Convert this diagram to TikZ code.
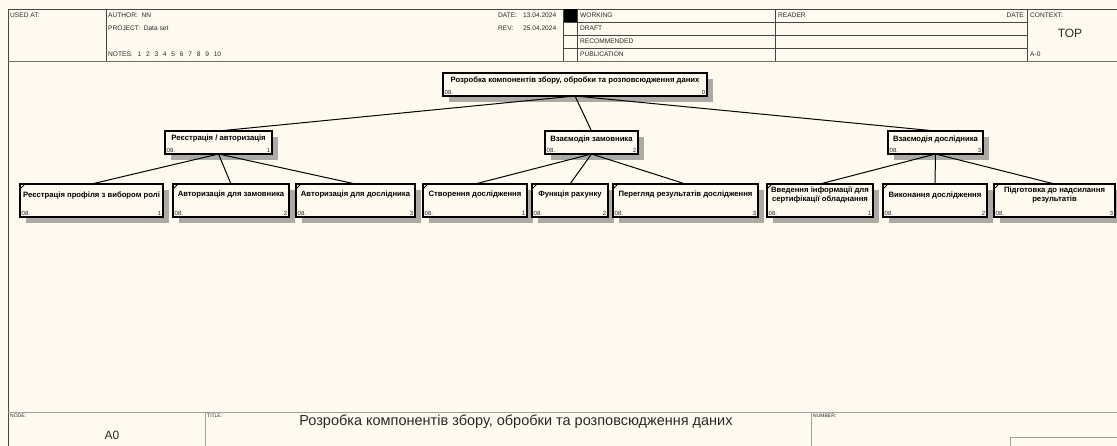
\documentclass[tikz,border=0pt]{standalone}
\usepackage{fontspec}
\setmainfont{Liberation Sans}
\usetikzlibrary{shadows}

\definecolor{paper}{RGB}{255,250,240}
\definecolor{frameline}{RGB}{70,70,70}
\definecolor{footline}{RGB}{160,160,160}
\definecolor{shade}{RGB}{172,170,164}
\definecolor{ink}{RGB}{40,40,40}

\tikzset{
  act/.style={draw=black, line width=1.1pt, fill=paper, anchor=north west,
    inner sep=0pt, outer sep=0pt,
    drop shadow={shadow xshift=6pt, shadow yshift=-6pt, fill=shade, opacity=1}},
  ttl/.style={font=\fontsize{7.7}{9.2}\selectfont\bfseries, align=center,
    inner sep=0pt, anchor=center},
  idx/.style={font=\fontsize{6}{7}\selectfont, inner sep=1.5pt, text=ink},
  link/.style={draw=black, line width=1pt},
  tick/.style={draw=black, line width=1pt},
  hdr/.style={font=\fontsize{6.6}{8}\selectfont, text=ink, inner sep=0pt, anchor=west},
  tiny/.style={font=\fontsize{5}{6}\selectfont, text=ink, inner sep=0pt, anchor=north west},
  grid/.style={draw=frameline, line width=0.7pt},
  fgrid/.style={draw=footline, line width=0.8pt}
}

% activity box: name, x, y, width, height, text offset, text, number
\newcommand\actbox[8]{%
  \node[act, minimum width=#4pt, minimum height=#5pt,
    label={[ttl, yshift=-#6pt]north:#7},
    label={[idx, anchor=south west]south west:08.},
    label={[idx, anchor=south east]south east:#8}] (#1) at (#2,#3) {};}

% diagonal mark in the upper left corner of a leaf box
\newcommand\leafmark[1]{%
  \draw[tick] ([yshift=-5pt]#1.north west) -- ([xshift=5pt]#1.north west);}

\newcommand\gap{\hspace{4.8pt}}

\begin{document}
\begin{tikzpicture}[x=1pt, y=-1pt]
  \useasboundingbox (0,0) rectangle (1117,446);
  \fill[paper] (0,0) rectangle (1117,446);

  % ---------- header block ----------
  \draw[grid] (8,9) -- (1117,9);
  \draw[grid] (8,9) -- (8,446);
  \draw[grid] (106,9) -- (106,61);
  \fill[black] (563,9) rectangle (577,22);
  \draw[grid] (563,9) -- (563,61);
  \draw[grid] (577,9) -- (577,61);
  \draw[grid] (775,9) -- (775,61);
  \draw[grid] (1027,9) -- (1027,61);
  \foreach \yy in {22,35,48} \draw[grid] (563,\yy) -- (1027,\yy);
  \draw[draw=frameline!80, line width=1.3pt] (8,61.5) -- (1117,61.5);

  \node[hdr] (usedat) at (10,15) {USED AT:};
  \node[hdr] (author) at (108,15) {AUTHOR:\ \ NN};
  \node[hdr] (project) at (108,28) {PROJECT:\ \ Data set};
  \node[hdr] (notes) at (108,54) {NOTES:\gap 1\gap 2\gap 3\gap 4\gap 5\gap 6\gap 7\gap 8\gap 9\gap 10};
  \node[hdr] (datelbl) at (498,15) {DATE:};
  \node[hdr] (dateval) at (523,15) {13.04.2024};
  \node[hdr] (revlbl) at (498,28) {REV:};
  \node[hdr] (revval) at (523,28) {25.04.2024};
  \node[hdr] (working) at (580,15) {WORKING};
  \node[hdr] (draft) at (580,28) {DRAFT};
  \node[hdr] (recom) at (580,41) {RECOMMENDED};
  \node[hdr] (publ) at (580,54) {PUBLICATION};
  \node[hdr] (reader) at (778,15) {READER};
  \node[hdr, anchor=east] (rdate) at (1024,15) {DATE};
  \node[hdr] (context) at (1030,15) {CONTEXT:};
  \node[font=\fontsize{12}{14}\selectfont, text=ink, inner sep=0pt] (ctxtop) at (1070,33) {TOP};
  \node[hdr] (ctxnode) at (1030,54) {A-0};

  % ---------- footer block ----------
  \draw[fgrid] (8,412) -- (1117,412);
  \draw[fgrid] (205,412) -- (205,446);
  \draw[fgrid] (811,412) -- (811,446);
  \draw[fgrid] (1010,446) -- (1010,437.5) -- (1117,437.5);
  \node[tiny] (nodelbl) at (10,414) {NODE:};
  \node[font=\fontsize{12}{14}\selectfont, text=ink, inner sep=0pt] (nodeval) at (112,435) {A0};
  \node[tiny] (titlelbl) at (207,414) {TITLE:};
  \node[font=\fontsize{14.5}{17}\selectfont, text=ink, inner sep=0pt] (titleval) at (516,422)
    {Розробка компонентів збору, обробки та розповсюдження даних};
  \node[tiny] (numlbl) at (813,414) {NUMBER:};

  % ---------- node tree ----------
  \actbox{a0}{443}{73}{264}{23}{7.5}{Розробка компонентів збору, обробки та розповсюдження даних}{0}

  \actbox{a1}{165}{131}{107}{23}{8}{Реєстрація / авторизація}{1}
  \actbox{a2}{545}{131}{93}{23}{8}{Взаємодія замовника}{2}
  \actbox{a3}{888}{131}{95}{23}{8}{Взаємодія дослідника}{3}

  \actbox{a11}{20}{184}{143}{33}{11}{Реєстрація профіля з вибором ролі}{1}
  \actbox{a12}{173}{184}{116}{33}{11}{Авторизація для замовника}{2}
  \actbox{a13}{296}{184}{119}{33}{11}{Авторизація для дослідника}{3}
  \actbox{a21}{423}{184}{104}{33}{11}{Створення дослідження}{1}
  \actbox{a22}{532}{184}{76}{33}{11}{Функція рахунку}{2}
  \actbox{a23}{613}{184}{145}{33}{11}{Перегляд результатів дослідження}{3}
  \actbox{a31}{767}{184}{106}{33}{11}{Введення інформації для\\сертифікації обладнання}{1}
  \actbox{a32}{883}{184}{104}{33}{11}{Виконання дослідження}{2}
  \actbox{a33}{994}{184}{121}{33}{11}{Підготовка до надсилання\\результатів}{3}

  \foreach \n in {a11,a12,a13,a21,a22,a23,a31,a32,a33} {\leafmark{\n}}

  % ---------- connectors ----------
  \foreach \c in {a1,a2,a3} \draw[link] (a0.south) -- (\c.north);
  \foreach \c in {a11,a12,a13} \draw[link] (a1.south) -- (\c.north);
  \foreach \c in {a21,a22,a23} \draw[link] (a2.south) -- (\c.north);
  \foreach \c in {a31,a32,a33} \draw[link] (a3.south) -- (\c.north);
\end{tikzpicture}
\end{document}
